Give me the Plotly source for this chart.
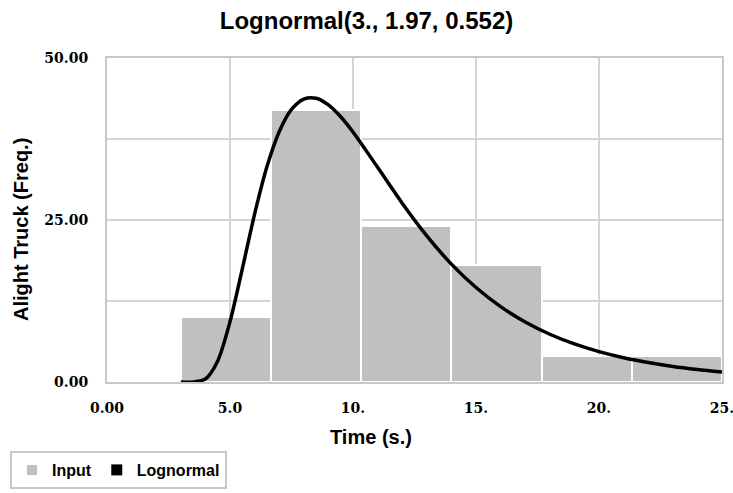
import plotly.graph_objects as go

# Histogram data
bin_edges = [3.0, 6.667, 10.333, 14.0, 17.667, 21.333, 25.0]
counts = [10, 42, 24, 18, 4, 4]

# Fitted curve
curve_x = [3, 3.5, 4, 4.5, 5, 5.5, 6, 6.5, 7, 7.5, 8, 8.5, 9, 9.5, 10, 11, 12, 13,
           14, 15, 16, 17, 18, 19, 20, 21, 22, 23, 24, 25]
curve_y = [0.0, 0.0, 0.46, 3.24, 9.31, 17.46, 25.92, 33.21, 38.63, 42.07, 43.67,
           43.79, 42.76, 40.93, 38.58, 33.13, 27.59, 22.54, 18.19, 14.58, 11.63,
           9.26, 7.37, 5.87, 4.68, 3.74, 3.00, 2.40, 1.94, 1.56]

x_tickvals = [0, 5, 10, 15, 20, 25]
x_ticktext = ["0.00", "5.0", "10.", "15.", "20.", "25."]
y_tickvals = [0, 12.5, 25, 37.5, 50]
y_ticktext = ["0.00", "", "25.00", "", "50.00"]

title_text = "Lognormal(3., 1.97, 0.552)"
x_title = "Time (s.)"
y_title = "Alight Truck (Freq.)"

centers = [(bin_edges[i] + bin_edges[i + 1]) / 2 for i in range(len(counts))]
widths = [bin_edges[i + 1] - bin_edges[i] for i in range(len(counts))]

W, H = 733, 493
L, R, T, B = 107, 11, 58, 111
pw = W - L - R
ph = H - T - B

fig = go.Figure()
fig.add_trace(go.Bar(
    x=centers, y=counts, width=widths, name="Input",
    marker=dict(color="#c0c0c0", line=dict(color="white", width=2)),
))
fig.add_trace(go.Scatter(
    x=curve_x, y=curve_y, mode="lines", showlegend=False,
    line=dict(color="black", width=3.5, shape="spline", smoothing=0.8),
))
fig.add_trace(go.Scatter(
    x=[None], y=[None], mode="markers", name="Lognormal",
    marker=dict(color="black", symbol="square", size=11),
))

tickfont = dict(family="DejaVu Serif", size=14, color="black", weight="bold")
sans = "Liberation Sans, Arial, sans-serif"

fig.update_layout(
    width=W, height=H,
    margin=dict(l=L, r=R, t=T, b=B, autoexpand=False),
    paper_bgcolor="white", plot_bgcolor="white",
    bargap=0,
    title=dict(text=title_text, x=0.5, xanchor="center", y=1 - 21 / H, yanchor="middle",
               font=dict(family=sans, size=24, color="black", weight="bold")),
    xaxis=dict(range=[0, 25], tickvals=x_tickvals, ticktext=x_ticktext, automargin=False,
               tickfont=tickfont, showgrid=True, gridcolor="#d4d4d4", gridwidth=1.5,
               showline=True, linecolor="#c8c8c8", linewidth=2, mirror=True,
               zeroline=False, ticks="", ticklabelstandoff=12, ticklabeloverflow="allow"),
    yaxis=dict(range=[0, 50], tickvals=y_tickvals, ticktext=y_ticktext, automargin=False,
               tickfont=tickfont, showgrid=True, gridcolor="#d4d4d4", gridwidth=1.5,
               showline=True, linecolor="#c8c8c8", linewidth=2, mirror=True,
               zeroline=False, ticks="", ticklabelstandoff=14, ticklabeloverflow="allow"),
    legend=dict(xref="container", yref="container", x=10 / W, y=1 - 489 / H,
                xanchor="left", yanchor="bottom", orientation="h",
                bordercolor="#c8c8c8", borderwidth=2, itemwidth=30,
                font=dict(family=sans, size=16, color="black", weight="bold"),
                tracegroupgap=0),
    annotations=[
        dict(text=x_title, xref="paper", yref="paper",
             x=(371 - L) / pw, y=-(437 - (T + ph)) / ph, xanchor="center", yanchor="middle",
             showarrow=False, font=dict(family=sans, size=20, color="black", weight="bold")),
        dict(text=y_title, xref="paper", yref="paper", textangle=-90,
             x=(21 - L) / pw, y=(T + ph - 230) / ph, xanchor="center", yanchor="middle",
             showarrow=False, font=dict(family=sans, size=20, color="black", weight="bold")),
    ],
)

fig.write_html("out.html")
